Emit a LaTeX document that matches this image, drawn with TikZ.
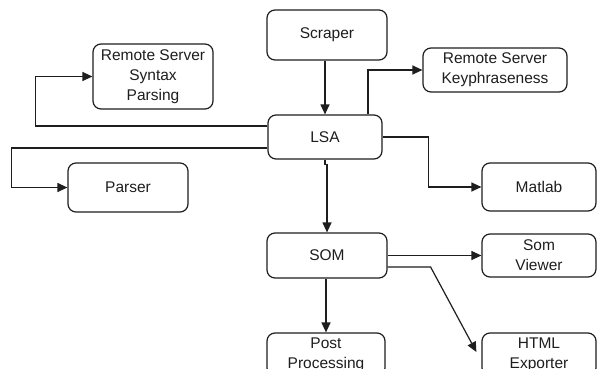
\documentclass[tikz,border=0pt]{standalone}
\usepackage{fontspec}
\setmainfont{Liberation Sans}
\usetikzlibrary{arrows.meta}
\definecolor{ink}{HTML}{1E1E1E}
\tikzset{
  box/.style={draw=ink, line width=1.2pt, rounded corners=8pt, align=center,
    inner sep=0pt, text=ink, font=\fontsize{15.5}{20}\selectfont},
  conn/.style={draw=ink, line width=1.2pt, -{Triangle[length=10pt,width=9pt]}}
}
\begin{document}
\begin{tikzpicture}[x=1pt,y=-1pt]
\useasboundingbox (0,0) rectangle (597,369);
\clip (0,0) rectangle (597,369);
\fill[white] (0,0) rectangle (597,369);
\node[box, minimum width=120pt, minimum height=50pt] (scraper) at (327,35) {Scraper};
\node[box, minimum width=114pt, minimum height=44pt] (lsa) at (325,137) {LSA};
\node[box, minimum width=120pt, minimum height=65pt] (syn) at (153,76.5) {Remote Server\\Syntax\\Parsing};
\node[box, minimum width=144pt, minimum height=44pt] (key) at (495,70) {Remote Server\\Keyphraseness};
\node[box, minimum width=120pt, minimum height=49pt] (parser) at (128,187.5) {Parser};
\node[box, minimum width=114pt, minimum height=48pt] (matlab) at (539,187) {Matlab};
\node[box, minimum width=120pt, minimum height=45pt] (som) at (327,255.5) {SOM};
\node[box, minimum width=114pt, minimum height=43pt] (somv) at (539,255.5) {Som\\Viewer};
\node[box, minimum width=118pt, minimum height=43pt] (post) at (326,354.5) {Post\\Processing};
\node[box, minimum width=114pt, minimum height=43pt] (html) at (539,354.5) {HTML\\Exporter};

\draw[conn] (scraper.south -| lsa.north) -- (lsa.north);
\draw[conn] ([xshift=43pt]lsa.north) |- (key.west);
\draw[conn] ([yshift=11pt]lsa.west) -- ++(-232,0) |- (syn.west);
\draw[conn] ([yshift=-11pt]lsa.west) -- ++(-256,0) |- (parser.west);
\draw[conn] (lsa.east) -- ++(46,0) |- (matlab.west);
\draw[conn] (lsa.south) -- ++(0,5) -| (som.north);
\draw[conn] (som.east) -- (somv.west);
\draw[conn] ([yshift=-11.5pt]som.east) -- ++(43,0) -- ([xshift=-5pt,yshift=2.5pt]html.west);
\draw[conn] ([xshift=-1pt]som.south) -- ([xshift=-1pt]som.south |- post.north);
\end{tikzpicture}
\end{document}
